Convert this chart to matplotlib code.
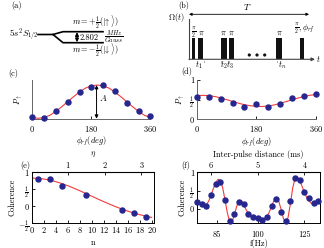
import matplotlib.pyplot as plt
from matplotlib.patches import Rectangle, Circle

plt.rcParams['font.family'] = 'serif'
plt.rcParams['font.serif'] = ['cmr10', 'DejaVu Serif']
plt.rcParams['mathtext.fontset'] = 'cm'
plt.rcParams['axes.formatter.use_mathtext'] = True
plt.rcParams['font.size'] = 6

W, H = 324., 248.
dot_col = '#26268f'
fit_col = '#f03c3c'

# (c), (d): P_up vs phi_rf
phi = [0, 36, 72, 108, 144, 180, 216, 252, 288, 324, 360]
p_up_c = [0.04, 0.02, 0.20, 0.44, 0.68, 0.83, 0.87, 0.72, 0.41, 0.20, 0.07]
p_up_d = [0.58, 0.58, 0.51, 0.42, 0.31, 0.40, 0.31, 0.39, 0.55, 0.60, 0.64]
phi_fit = list(range(0, 361, 18))
fit_c = [0.03, 0.01, 0.03, 0.09, 0.19, 0.31, 0.44, 0.57, 0.69, 0.79, 0.85,
         0.87, 0.85, 0.79, 0.69, 0.57, 0.44, 0.31, 0.19, 0.09, 0.03]
fit_d = [0.60, 0.61, 0.60, 0.58, 0.545, 0.50, 0.455, 0.41, 0.37, 0.345, 0.33,
         0.325, 0.34, 0.365, 0.405, 0.45, 0.495, 0.54, 0.58, 0.61, 0.63]

# (e): coherence vs number of pulses
n_pulses = [1, 3, 5, 9, 15, 17, 19]
coh_e = [0.81, 0.79, 0.60, 0.32, -0.10, -0.21, -0.30]
n_fit = list(range(0, 21))
fit_e = [0.83, 0.823, 0.803, 0.77, 0.726, 0.671, 0.607, 0.536, 0.459, 0.38, 0.299,
         0.217, 0.138, 0.062, -0.011, -0.078, -0.14, -0.195, -0.245, -0.289, -0.327]

# (f): coherence vs inter-pulse distance (ms)
tau = [6.3, 6.2, 6.1, 6.0, 5.9, 5.8, 5.7, 5.6, 5.5, 5.4, 5.3, 5.2, 5.1, 5.0,
       4.9, 4.8, 4.7, 4.6, 4.5, 4.4, 4.3, 4.2, 4.1, 4.0, 3.9, 3.8, 3.7]
coh_f = [0.19, 0.135, 0.09, 0.39, 0.68, 0.75, 0.25, -0.31, -0.13, 0.19, 0.135,
         -0.13, -0.20, -0.23, -0.29, -0.20, 0.10, 0.27, -0.08, -0.32, 0.21,
         0.84, 0.79, 0.46, 0.31, 0.16, 0.22]
tau_fit = [6.3, 6.25, 6.2, 6.15, 6.1, 6.05, 6.0, 5.95, 5.9, 5.85, 5.8, 5.75, 5.7,
           5.65, 5.6, 5.55, 5.5, 5.45, 5.4, 5.35, 5.3, 5.25, 5.2, 5.15, 5.1, 5.05,
           5.0, 4.95, 4.9, 4.85, 4.8, 4.75, 4.7, 4.65, 4.6, 4.55, 4.5, 4.45, 4.4,
           4.35, 4.3, 4.25, 4.2, 4.15, 4.1, 4.05, 4.0, 3.95, 3.9, 3.85, 3.8, 3.75, 3.7]
fit_f = [0.20, 0.16, 0.12, 0.10, 0.12, 0.22, 0.38, 0.56, 0.72, 0.81, 0.78, 0.58, 0.25,
         -0.10, -0.33, -0.34, -0.15, 0.08, 0.22, 0.24, 0.14, -0.01, -0.12, -0.18, -0.21,
         -0.23, -0.24, -0.25, -0.26, -0.25, -0.20, -0.07, 0.10, 0.24, 0.29, 0.22, 0.0,
         -0.25, -0.36, -0.22, 0.15, 0.58, 0.84, 0.87, 0.78, 0.62, 0.45, 0.32, 0.22,
         0.16, 0.14, 0.16, 0.20]
f_ticks = [85, 100, 125]
tau_ticks = [6, 5, 4]
eta_ticks = [1, 2, 3]

fig = plt.figure(figsize=(W / 100, H / 100), dpi=100)


def box(x0, y0, x1, y1):
    # pixel box (top-left origin) -> figure fraction rect
    return [x0 / W, 1 - y1 / H, (x1 - x0) / W, (y1 - y0) / H]


def style(ax, col='#666666'):
    for s in ax.spines.values():
        s.set_color(col)
        s.set_linewidth(0.7)
    ax.tick_params(direction='in', length=2.5, width=0.6, pad=2, colors='black',
                   labelsize=6)


half = r'$\frac{1}{2}$'
mhalf = r'$-\frac{1}{2}$'

# panel (c)
axc = fig.add_axes(box(32.3, 80, 150.3, 118.7))
axc.plot(phi_fit, fit_c, color=fit_col, lw=0.8, zorder=2)
axc.plot(phi, p_up_c, 'o', color=dot_col, ms=3.6, zorder=3, clip_on=False)
axc.annotate('', xy=(196, 0), xytext=(196, 0.87),
             arrowprops=dict(arrowstyle='<|-|>', color='black', lw=0.7,
                             mutation_scale=5, shrinkA=0, shrinkB=0))
axc.text(205, 0.45, r'$A$', fontsize=6.5)
axc.set_xlim(0, 360)
axc.set_ylim(0, 1)
axc.spines['top'].set_visible(False)
axc.spines['right'].set_visible(False)
style(axc)
axc.set_xticks([0, 180, 360])
axc.set_yticks([])
axc.tick_params(pad=3.5)
axc.set_xlabel(r'$\phi_{rf}(deg)$', labelpad=1)
axc.set_ylabel(r'$P_{\uparrow}$', labelpad=5)

# panel (d)
axd = fig.add_axes(box(197, 80, 315.7, 119.3))
axd.plot(phi_fit, fit_d, color=fit_col, lw=0.8, zorder=2)
axd.plot(phi, p_up_d, 'o', color=dot_col, ms=3.6, zorder=3, clip_on=False)
axd.set_xlim(0, 360)
axd.set_ylim(0, 1)
axd.spines['top'].set_visible(False)
axd.spines['right'].set_visible(False)
style(axd)
axd.set_xticks([0, 180, 360])
axd.set_yticks([0, 0.5, 1])
axd.set_yticklabels(['0', half, '1'])
axd.tick_params(axis='x', pad=3.5)
axd.set_xlabel(r'$\phi_{rf}(deg)$', labelpad=1)
axd.set_ylabel(r'$P_{\uparrow}$', labelpad=2)

# panel (e)
axe = fig.add_axes(box(31.7, 172.3, 154, 223.3))
axe.plot(n_fit, fit_e, color=fit_col, lw=0.8, zorder=2)
axe.plot(n_pulses, coh_e, 'o', color=dot_col, ms=3.6, zorder=3)
axe.set_xlim(0, 20.4)
axe.set_ylim(-0.5, 1)
style(axe, 'black')
axe.set_xticks(range(0, 21, 2))
axe.set_yticks([-0.5, 0, 0.5, 1])
axe.set_yticklabels([mhalf, '0', half, '1'])
axe.tick_params(axis='x', pad=1.5)
axe.set_xlabel(r'n', labelpad=2)
axe.set_ylabel('Coherence', labelpad=1)
sece = axe.secondary_xaxis('top', functions=(lambda x: x / 6.1, lambda x: x * 6.1))
sece.set_xticks(eta_ticks)
sece.tick_params(direction='in', length=2.5, width=0.6, pad=2, labelsize=6)
sece.set_xlabel(r'$\eta$', labelpad=3)

# panel (f)
axf = fig.add_axes(box(197, 172.3, 320.3, 223.3))
axf.plot(tau_fit, fit_f, color=fit_col, lw=0.8, zorder=2)
axf.plot(tau, coh_f, 'o', color=dot_col, ms=3.6, zorder=3, clip_on=False)
axf.set_xlim(6.3, 3.66)
axf.set_ylim(-0.38, 1)
style(axf, 'black')
axf.set_xticks([500. / f for f in f_ticks])
axf.set_xticklabels([str(f) for f in f_ticks])
axf.set_yticks([0, 0.5, 1])
axf.set_yticklabels(['0', half, '1'])
axf.tick_params(axis='x', pad=5)
axf.set_xlabel('f(Hz)', labelpad=0.5)
axf.set_ylabel('Coherence', labelpad=2)
secf = axf.secondary_xaxis('top')
secf.set_xticks(tau_ticks)
secf.set_xticklabels([str(t) for t in tau_ticks])
secf.tick_params(direction='in', length=2.5, width=0.6, pad=2, labelsize=6)
secf.set_xlabel('Inter-pulse distance (ms)', labelpad=3)

# overlay for schematics (a), (b) and panel tags, pixel coordinates
ov = fig.add_axes([0, 0, 1, 1])
ov.set_xlim(0, W)
ov.set_ylim(H, 0)
ov.axis('off')
ov.patch.set_alpha(0)

for tag, x, y in [('(a)', 17, 6), ('(b)', 184, 5), ('(c)', 13, 73),
                  ('(d)', 187, 71), ('(e)', 25, 165), ('(f)', 186, 165)]:
    ov.text(x, y, tag, ha='center', va='center', fontsize=6)

# (a) Zeeman levels
ov.text(24, 35, r'$5s^2S_{1/2}$', ha='center', va='center', fontsize=6.5)
ov.plot([38, 53, 63, 103], [34.5, 34.5, 31.7, 31.7], color='black', lw=1.2)
ov.plot([53, 63, 103], [34.5, 42.7, 42.7], color='black', lw=1.2)
ov.annotate('', xy=(77, 32.2), xytext=(77, 42.2),
            arrowprops=dict(arrowstyle='<|-|>', color='black', lw=0.9,
                            mutation_scale=5, shrinkA=0, shrinkB=0))
ov.text(80, 37.5, '2.802', ha='left', va='center', fontsize=6)
ov.text(104.5, 37, r'$\frac{MHz}{Gauss}$', ha='left', va='center', fontsize=6.5)
ov.text(95, 22, r'$m=+\frac{1}{2}(|\!\uparrow\rangle)$', ha='center', va='center', fontsize=6)
ov.text(95, 50, r'$m=-\frac{1}{2}(|\!\downarrow\rangle)$', ha='center', va='center', fontsize=6)

# (b) pulse sequence
ov.text(247, 7, r'$T$', ha='center', va='center', fontsize=6.5)
ov.annotate('', xy=(189, 14.3), xytext=(309, 14.3),
            arrowprops=dict(arrowstyle='<|-|>', color='black', lw=0.6,
                            mutation_scale=4, shrinkA=0, shrinkB=0))
ov.text(176, 17, r'$\Omega(t)$', ha='center', va='center', fontsize=6)
ov.plot([189, 189], [59.3, 19], color='#444444', lw=0.8)
ov.annotate('', xy=(315, 59.3), xytext=(189, 59.3),
            arrowprops=dict(arrowstyle='-|>', color='#444444', lw=0.8,
                            mutation_scale=5, shrinkA=0, shrinkB=0))
ov.text(318, 59, r'$t$', ha='center', va='center', fontsize=6)
pulses = [(192, 195.3), (198, 203.3), (221.3, 226.7), (228.7, 234.3),
          (276.3, 282), (300.3, 303.7)]
for x0, x1 in pulses:
    ov.add_patch(Rectangle((x0, 38.3), x1 - x0, 21, color='#111111', lw=0))
for xd in [249.3, 257, 264.7]:
    ov.add_patch(Circle((xd, 55), 1.6, color='#111111', lw=0))
ov.text(193.5, 33, r'$\frac{\pi}{2}$', ha='center', va='center', fontsize=6)
ov.text(201, 33, r'$\pi$', ha='center', va='center', fontsize=6)
ov.text(223, 33, r'$\pi$', ha='center', va='center', fontsize=6)
ov.text(231, 33, r'$\pi$', ha='center', va='center', fontsize=6)
ov.text(279, 33, r'$\pi$', ha='center', va='center', fontsize=6)
ov.text(304, 29, r'$\frac{\pi}{2},\phi_{rf}$', ha='center', va='center', fontsize=6)
for xt in [203.7, 221, 228.7, 277]:
    ov.plot([xt, xt], [60.5, 62], color='#777777', lw=0.5)
ov.text(199, 65.5, r'$t_1$', ha='center', va='center', fontsize=6)
ov.text(227, 65.5, r'$t_2t_3$', ha='center', va='center', fontsize=6)
ov.text(282, 65.5, r'$t_n$', ha='center', va='center', fontsize=6)

fig.savefig('out.png', dpi=100)
